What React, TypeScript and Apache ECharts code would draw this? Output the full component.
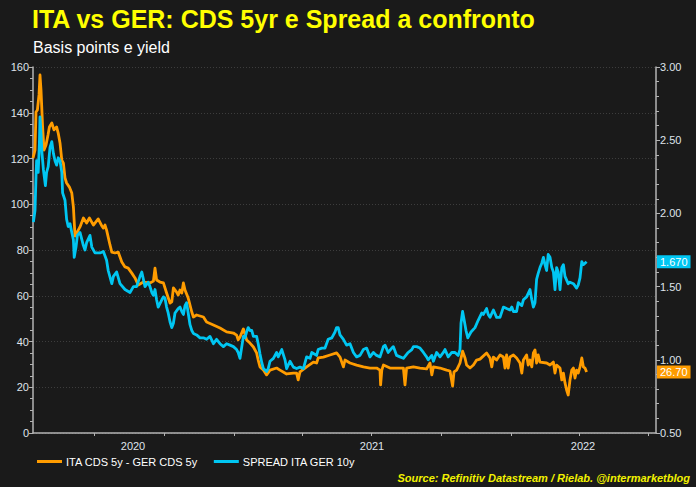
import React, { useEffect, useRef } from 'react';
import * as echarts from 'echarts';

// ---------- texts ----------
const titleText = 'ITA vs GER: CDS 5yr e Spread a confronto';
const subtitleText = 'Basis points e yield';
const sourceText = 'Source: Refinitiv Datastream / Rielab. @intermarketblog';
const cdsName = 'ITA CDS 5y - GER CDS 5y';
const spreadName = 'SPREAD ITA GER 10y';

// ---------- x axis (weeks since mid-May 2019) ----------
const xMin = 0;
const xMax = 155.75;
const xTickWeeks = [15.25, 32.75, 50.25, 67.25, 84.5, 102, 119.5, 136.5, 153.75];
const xLabelWeeks = [25, 84.75, 137.5];
const xLabelTexts = ['2020', '2021', '2022'];

// ---------- y axes ----------
const leftMin = 0, leftMax = 160, leftInterval = 20;
const rightMin = 0.5, rightMax = 3, rightInterval = 0.5;

// ---------- series: ITA CDS 5y - GER CDS 5y (bp, left axis) ----------
const cdsWeeks = [0,0.5,0.75,1.1,1.5,1.75,2,2.4,2.75,3.25,3.75,4.1,4.7,5.25,5.9,6.3,6.75,7.2,7.6,8,8.4,9.1,9.7,10.1,10.5,10.9,11.75,12.6,13.4,14.1,15.1,16.3,17.2,17.6,18,18.4,19.25,19.7,20.5,21.3,21.75,22.2,23,23.8,24.7,25.5,26.3,27.6,29.25,30.1,30.5,30.9,31.75,32.6,33.4,34.25,34.7,35.1,35.9,36.3,36.75,37.2,37.6,38,38.8,39.7,40.1,40.9,42.6,43.4,45.1,46.75,48.4,50.1,50.9,51.3,51.75,52.6,53.4,54.25,55.1,55.9,56.3,56.75,57.6,58.4,59.25,60.9,61.75,63.4,65.1,65.9,66.3,66.75,68.4,70.1,70.9,71.3,72.6,74.25,75.9,76.75,77.6,78,79.25,80.9,82.6,84.25,85.9,86.75,86.9,87.2,87.6,89.25,91.75,92.6,93,93.4,95.1,96.75,98.4,99.25,99.7,100.1,101.75,103.4,104.25,104.9,105.25,105.9,106.75,107.4,108,108.4,109.25,110.1,110.9,111.75,113.4,114.25,114.7,115.1,115.9,116.75,117.6,118,118.4,118.8,119.25,120.1,120.9,121.75,122.2,122.6,123.4,123.8,124.25,124.7,125.1,125.5,125.9,126.3,126.75,128.4,129.25,130.1,130.5,130.9,131.75,132.2,132.6,133,133.4,133.8,134.25,134.7,135.1,135.5,135.9,136.3,136.75,137.2,137.6,138,138.4];
const cdsValues = [120.2,123.7,140.3,141.2,147.8,156.5,149.9,133.8,123.7,125.9,130.3,133.8,135.5,132.5,133.8,131.1,126.8,119.3,118.0,111.5,109.3,107.5,104.9,98.8,86.1,87.4,90.1,94.0,91.8,94.0,90.9,93.6,90.5,89.6,90.9,88.7,82.2,79.1,78.7,79.1,76.9,74.8,72.6,72.1,69.9,67.8,64.7,66.0,65.6,66.4,72.1,66.9,66.0,65.6,61.2,56.8,57.3,63.4,61.6,60.3,62.5,61.2,65.6,62.5,59.0,52.9,50.7,51.6,50.7,48.5,47.2,45.9,44.2,43.7,42.8,40.7,42.0,45.5,40.7,39.3,37.6,35.0,31.9,28.9,27.5,25.4,27.5,28.4,27.5,25.8,26.2,26.2,23.2,26.7,28.9,31.0,30.6,32.8,33.2,34.1,35.0,33.2,28.9,31.9,30.6,29.7,28.9,28.4,28.4,27.5,21.0,27.5,29.7,28.4,28.4,28.4,21.0,28.4,28.9,28.4,28.0,30.6,25.4,28.9,28.4,27.5,27.1,20.5,26.7,27.5,30.6,35.8,32.8,29.7,28.4,29.7,31.9,32.3,35.0,32.8,28.9,33.2,31.9,34.1,33.2,28.4,34.1,28.4,33.2,34.1,32.8,30.6,26.2,31.9,34.1,29.7,31.9,28.9,35.0,36.3,30.6,34.1,31.0,30.6,29.7,31.0,26.2,29.7,28.4,23.2,26.2,21.9,18.8,16.6,23.2,27.5,28.4,24.0,27.5,26.2,28.9,32.8,28.9,28.4,26.7];

// ---------- series: SPREAD ITA GER 10y (%, right axis) ----------
const spreadWeeks = [0.1,0.5,0.75,0.9,1.3,1.6,1.75,2,2.25,2.6,3.1,3.4,3.8,4.25,4.7,5.1,5.5,5.9,6.3,6.75,7.2,7.4,8,8.4,8.8,9.25,9.7,10.1,10.3,10.75,11.1,11.75,12.6,13,13.4,14.25,14.7,15.5,16.75,17.6,18.4,18.8,19.7,20.1,20.9,21.75,23,24.25,25.1,25.9,26.75,27.2,28,28.8,29.25,29.7,30.1,30.5,30.9,31.3,32.2,32.6,33,33.4,33.8,34.25,34.7,35.1,35.5,36.3,36.75,37.2,37.6,38,38.4,38.8,39.25,39.7,40.1,40.9,41.75,42.6,43.4,44.25,45.1,45.9,46.75,47.6,48.4,49.25,50.1,50.9,51.3,51.75,52.2,52.6,53,53.4,53.8,54.25,54.7,55.1,55.9,56.3,56.75,57.2,57.6,58.4,58.8,59.25,60.1,60.9,61.3,62.2,63,63.4,64.25,65.1,65.9,66.75,67.6,68.4,69.25,69.7,70.9,71.3,72.2,73,73.8,74.7,75.5,75.9,76.3,76.75,77.6,78.4,79.25,80.1,80.9,81.75,82.6,83.4,84.25,85.1,85.9,86.75,87.6,88,88.8,89.7,90.1,90.9,91.75,92.6,93.8,94.7,95.1,95.9,96.75,97.6,98.4,98.8,99.7,100.1,100.9,101.75,102.6,103,103.8,104.7,105.5,106.3,106.75,107,107.4,107.8,108.25,108.7,109.5,110.5,111.3,112.2,112.6,113.4,113.8,114.25,115.1,115.9,116.75,117.6,118.4,119.25,119.7,120.1,120.9,121.3,122.2,122.6,123.4,124.25,124.7,125.1,125.5,125.9,126.3,126.75,127.2,127.6,128,128.4,128.8,129.25,129.7,130.1,130.5,130.9,131.3,131.75,132.2,132.6,133,133.8,134.25,135.1,135.9,136.3,136.75,137.2,137.6,138,138.4];
const spreadValues = [1.94,2.02,2.25,2.36,2.28,2.48,2.66,2.55,2.41,2.30,2.19,2.28,2.32,2.45,2.49,2.41,2.36,2.33,2.38,2.36,2.28,2.14,2.09,1.96,1.91,1.93,1.87,1.82,1.70,1.77,1.85,1.87,1.78,1.75,1.80,1.85,1.77,1.73,1.73,1.74,1.68,1.61,1.52,1.57,1.60,1.52,1.48,1.46,1.50,1.50,1.57,1.60,1.50,1.53,1.50,1.46,1.44,1.48,1.41,1.36,1.41,1.43,1.42,1.36,1.32,1.26,1.22,1.25,1.32,1.35,1.36,1.33,1.31,1.37,1.39,1.32,1.24,1.20,1.18,1.17,1.15,1.15,1.14,1.16,1.11,1.14,1.11,1.09,1.11,1.10,1.09,1.07,1.05,1.01,1.09,1.16,1.15,1.19,1.22,1.20,1.20,1.16,1.16,1.11,1.04,0.98,0.94,0.92,0.94,0.99,1.01,1.05,1.02,1.07,1.00,0.94,0.99,0.95,0.94,0.95,0.94,1.02,1.01,1.05,1.03,1.07,1.08,1.08,1.14,1.15,1.19,1.22,1.22,1.17,1.14,1.10,1.11,1.05,1.02,1.03,1.07,1.08,1.02,1.05,1.03,1.02,1.09,1.10,1.05,1.08,1.09,1.03,1.02,1.01,1.05,1.07,1.09,1.09,1.08,1.05,1.02,1.00,1.03,0.99,1.05,1.02,1.05,1.07,1.02,1.05,1.05,1.03,1.07,1.25,1.33,1.27,1.20,1.15,1.19,1.22,1.27,1.32,1.31,1.35,1.31,1.29,1.34,1.29,1.29,1.36,1.35,1.34,1.36,1.33,1.33,1.39,1.37,1.41,1.43,1.48,1.41,1.36,1.39,1.55,1.59,1.63,1.66,1.70,1.65,1.61,1.72,1.70,1.63,1.60,1.48,1.63,1.60,1.48,1.63,1.65,1.57,1.52,1.53,1.52,1.49,1.51,1.56,1.67,1.65,1.66,1.67];

// ---------- colours ----------
const bg = '#1a1a1a';
const orange = '#ff9c00';
const blue = '#00c6f2';
const yellow = '#ffff00';
const axisColor = '#b4b4b4';
const labelColor = '#dfe3ea';
const fontFamily = '"Liberation Sans", Arial, sans-serif';

export default function App() {
  const ref = useRef<HTMLDivElement>(null);

  useEffect(() => {
    if (!ref.current) return;
    const chart = echarts.init(ref.current, null, { renderer: 'svg' });

    const cdsData = cdsWeeks.map((w, i) => [w, cdsValues[i]]);
    const spreadData = spreadWeeks.map((w, i) => [w, spreadValues[i]]);

    chart.setOption({
      animation: false,
      backgroundColor: bg,
      textStyle: { fontFamily },
      title: [
        {
          text: titleText,
          left: 32,
          top: 6,
          padding: 0,
          textStyle: { color: yellow, fontSize: 25, fontWeight: 'bold', fontFamily },
        },
        {
          text: subtitleText,
          left: 33,
          top: 39,
          padding: 0,
          textStyle: { color: '#ffffff', fontSize: 16, fontWeight: 'normal', fontFamily },
        },
      ],
      legend: {
        left: 37,
        top: 456,
        padding: 0,
        icon: 'rect',
        itemWidth: 25,
        itemHeight: 3,
        itemGap: 16,
        textStyle: { color: '#ffffff', fontSize: 11, fontFamily, padding: [0, 0, 0, -1] },
        data: [cdsName, spreadName],
      },
      grid: { left: 33, right: 40, top: 67, bottom: 54, containLabel: false, outerBoundsMode: 'none' },
      xAxis: {
        type: 'value',
        min: xMin,
        max: xMax,
        splitLine: { show: false },
        axisLine: { show: true, lineStyle: { color: axisColor, width: 1.5 } },
        axisTick: { show: true, customValues: xTickWeeks, length: 3, lineStyle: { color: axisColor } },
        axisLabel: {
          show: true,
          customValues: xLabelWeeks,
          formatter: (v: number) => {
            const idx = xLabelWeeks.findIndex((w) => Math.abs(w - v) < 1e-6);
            return idx >= 0 ? xLabelTexts[idx] : '';
          },
          color: labelColor,
          fontSize: 11,
          margin: 7,
          fontFamily,
        },
      },
      yAxis: [
        {
          type: 'value',
          min: leftMin,
          max: leftMax,
          interval: leftInterval,
          position: 'left',
          axisLine: { show: true, lineStyle: { color: axisColor, width: 1.5 } },
          axisTick: { show: true, length: 4, lineStyle: { color: axisColor } },
          minorTick: { show: true, splitNumber: 4, length: 3, lineStyle: { color: axisColor } },
          axisLabel: { color: labelColor, fontSize: 11, margin: 4, fontFamily },
          splitLine: { show: true, lineStyle: { color: '#3d3d3d', type: [1, 2], width: 1 } },
        },
        {
          type: 'value',
          min: rightMin,
          max: rightMax,
          interval: rightInterval,
          position: 'right',
          axisLine: { show: true, lineStyle: { color: axisColor, width: 1.5 } },
          axisTick: { show: true, length: 4, lineStyle: { color: axisColor } },
          minorTick: { show: true, splitNumber: 5, length: 3, lineStyle: { color: axisColor } },
          axisLabel: {
            color: labelColor,
            fontSize: 11,
            margin: 4,
            fontFamily,
            formatter: (v: number) => v.toFixed(2),
          },
          splitLine: { show: false },
        },
      ],
      series: [
        {
          name: cdsName,
          type: 'line',
          yAxisIndex: 0,
          data: cdsData,
          showSymbol: false,
          symbol: 'none',
          color: orange,
          lineStyle: { color: orange, width: 2.8, join: 'round' },
        },
        {
          name: spreadName,
          type: 'line',
          yAxisIndex: 1,
          data: spreadData,
          showSymbol: false,
          symbol: 'none',
          color: blue,
          lineStyle: { color: blue, width: 2.8, join: 'round' },
        },
      ],
    });

    const lastCds = cdsValues[cdsValues.length - 1];
    const lastSpread = spreadValues[spreadValues.length - 1];
    const xRight = chart.convertToPixel({ xAxisIndex: 0 }, xMax) as number;
    const yCds = chart.convertToPixel({ yAxisIndex: 0 }, lastCds) as number;
    const ySpread = chart.convertToPixel({ yAxisIndex: 1 }, lastSpread) as number;

    const tagStyle = (text: string, color: string, y: number) => ({
      type: 'text',
      x: xRight + 1,
      y,
      z: 100,
      style: {
        text,
        fill: '#ffffff',
        font: `11px ${fontFamily}`,
        backgroundColor: color,
        padding: [1, 3, 1, 3],
        verticalAlign: 'middle',
        align: 'left',
      },
    });

    chart.setOption({
      graphic: [
        tagStyle(lastSpread.toFixed(3), blue, ySpread),
        tagStyle(lastCds.toFixed(2), orange, yCds),
        {
          type: 'text',
          right: 6,
          top: 472,
          style: {
            text: sourceText,
            fill: '#f2f200',
            font: `italic bold 11px ${fontFamily}`,
          },
        },
      ],
    });

    return () => chart.dispose();
  }, []);

  return (
    <div
      ref={ref}
      style={{ position: 'fixed', left: 0, top: 0, width: 696, height: 487, background: bg }}
    />
  );
}
